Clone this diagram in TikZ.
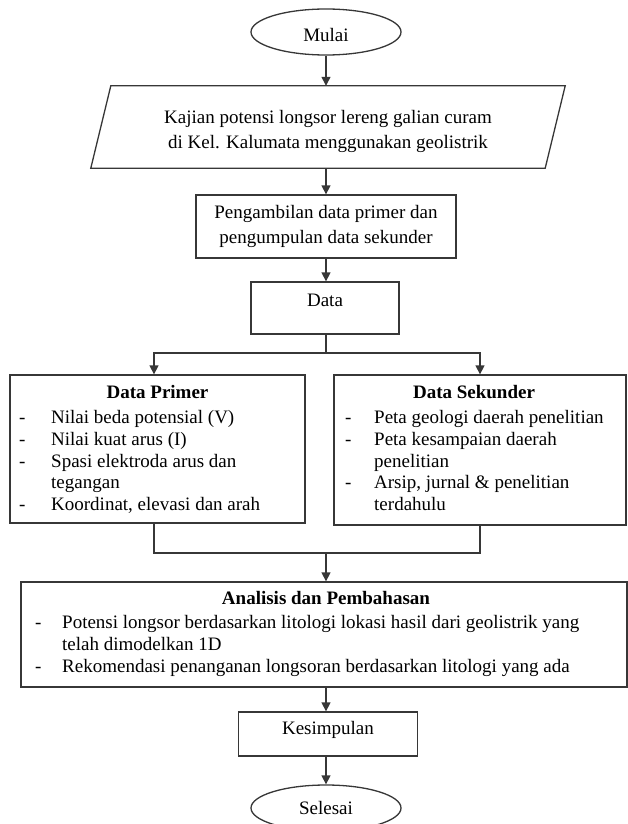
\documentclass[tikz,border=0pt]{standalone}
\usepackage{fontspec}
\setmainfont{Liberation Serif}
\usetikzlibrary{arrows.meta,positioning,calc,shapes.geometric}
\definecolor{cline}{RGB}{55,55,55}

\tikzset{
  flowbox/.style={draw=cline, line width=1.3pt, rectangle, inner sep=0pt},
  terminal/.style={draw=cline, line width=1.3pt, ellipse, inner sep=0pt,
    minimum width=150pt, minimum height=46pt},
  txt/.style={font=\fontsize{19}{25}\selectfont, align=center},
  judul/.style={font=\fontsize{19}{22}\selectfont\bfseries, anchor=base, inner sep=0pt},
  isi/.style={font=\fontsize{19}{21.75}\selectfont, anchor=north west, inner sep=0pt},
  flowline/.style={draw=cline, line width=1.3pt},
  flowarr/.style={flowline, -{Triangle[length=9pt,width=9pt]}},
}

\begin{document}
\begin{tikzpicture}[x=1pt,y=-1pt]
  \useasboundingbox (0,0) rectangle (628,824);
  % start
  \node[terminal, txt, text height=19pt, text depth=0pt] (mulai) at (326,32) {Mulai};
  % topic (parallelogram drawn round the text node)
  \node[txt, inner sep=0pt, minimum width=454pt, minimum height=82pt] (kajian) at (328,127)
    {\rule{0pt}{23pt}Kajian potensi longsor lereng galian curam\\di Kel. Kalumata menggunakan geolistrik};
  \draw[flowline] ([xshift=10pt]kajian.north west) -- ([xshift=10pt]kajian.north east)
    -- ([xshift=-10pt]kajian.south east) -- ([xshift=-10pt]kajian.south west) -- cycle;
  % data collection
  \node[flowbox, txt, minimum width=260pt, minimum height=63pt] (ambil) at (326,226.5)
    {Pengambilan data primer dan\\pengumpulan data sekunder};
  \node[flowbox, txt, minimum width=148pt, minimum height=52pt,
    text height=13pt, text depth=16pt] (data) at (325,308) {Data};
  % primary and secondary data
  \node[flowbox, minimum width=295pt, minimum height=148pt] (primer) at (157.5,449) {};
  \node[judul] (primerjudul) at (157.5,398) {Data Primer};
  \node[isi] (primerisi) at (19,408.3) {\begin{tabular}{@{}p{32pt}@{}l@{}}
    -&Nilai beda potensial (V)\\
    -&Nilai kuat arus (I)\\
    -&Spasi elektroda arus dan\\
     &tegangan\\
    -&Koordinat, elevasi dan arah
  \end{tabular}};
  \node[flowbox, minimum width=292pt, minimum height=150pt] (sekunder) at (480,450) {};
  \node[judul] (sekunderjudul) at (474,398) {Data Sekunder};
  \node[isi] (sekunderisi) at (345,408.3) {\begin{tabular}{@{}p{29pt}@{}l@{}}
    -&Peta geologi daerah penelitian\\
    -&Peta kesampaian daerah\\
     &penelitian\\
    -&Arsip, jurnal \& penelitian\\
     &terdahulu
  \end{tabular}};
  % analysis
  \node[flowbox, minimum width=606pt, minimum height=105pt] (analisis) at (324,634.5) {};
  \node[judul] (analisisjudul) at (326,604) {Analisis dan Pembahasan};
  \node[isi, font=\fontsize{19}{22}\selectfont] (analisisisi) at (35,613) {\begin{tabular}{@{}p{27pt}@{}l@{}}
    -&Potensi longsor berdasarkan litologi lokasi hasil dari geolistrik yang\\
     &telah dimodelkan 1D\\
    -&Rekomendasi penanganan longsoran berdasarkan litologi yang ada
  \end{tabular}};
  % conclusion and end
  \node[flowbox, txt, minimum width=179pt, minimum height=44pt,
    text height=13pt, text depth=12pt] (kes) at (328,734) {Kesimpulan};
  \node[terminal, txt] (selesai) at (326,808) {Selesai};

  % connectors
  \coordinate (cabang) at (326,353);
  \coordinate (gabung) at (326,553);
  \draw[flowarr] (mulai) -- (mulai.south |- kajian.north);
  \draw[flowarr] (mulai.south |- kajian.south) -- (ambil);
  \draw[flowarr] (ambil) -- (ambil.south |- data.north);
  \draw[flowline] (cabang |- data.south) -- (cabang);
  \draw[flowarr] (cabang) -| ([xshift=-3.5pt]primer.north);
  \draw[flowarr] (cabang) -| (sekunder.north);
  \draw[flowline] ([xshift=-3.5pt]primer.south) |- (gabung) -| (sekunder.south);
  \draw[flowarr] (gabung) -- (gabung |- analisis.north);
  \draw[flowarr] (gabung |- analisis.south) -- (gabung |- kes.north);
  \draw[flowarr] (gabung |- kes.south) -- (selesai);
\end{tikzpicture}
\end{document}
